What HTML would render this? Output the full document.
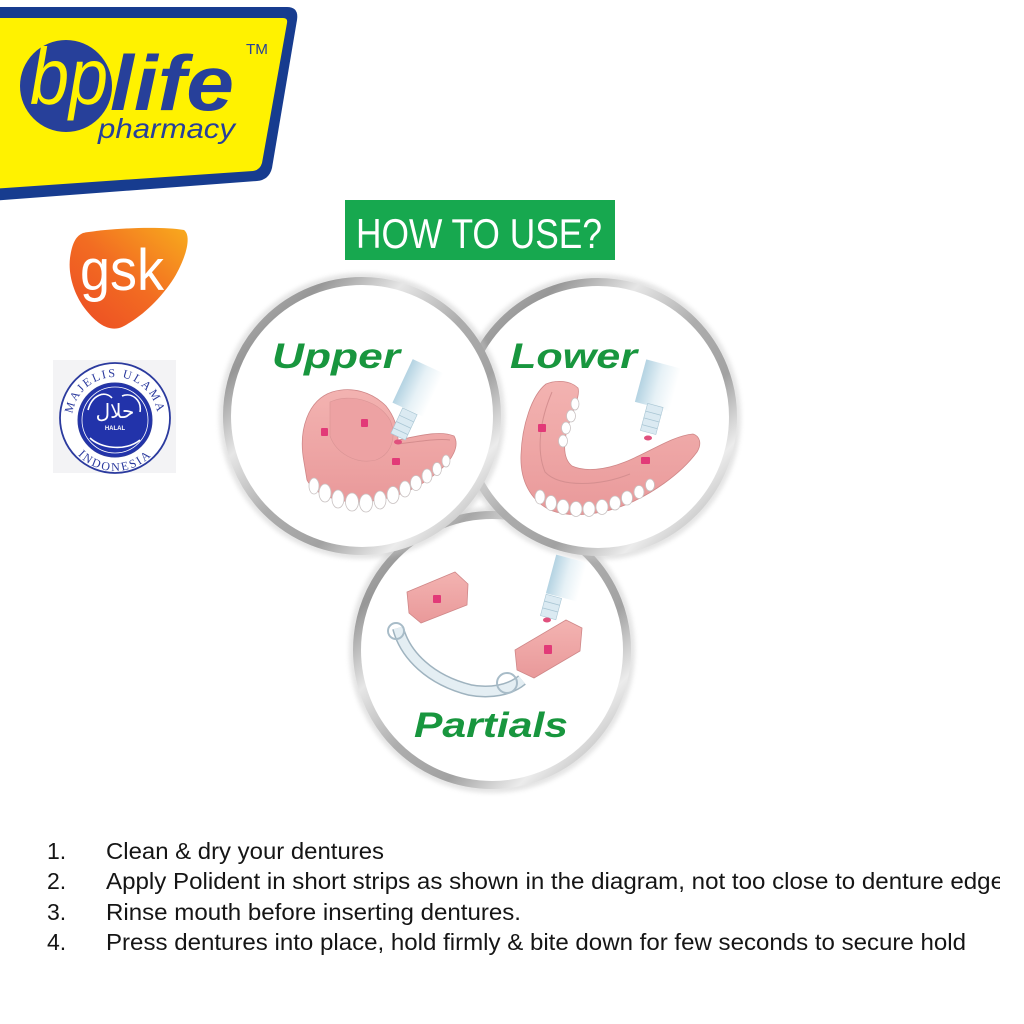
<!DOCTYPE html>
<html>
<head>
<meta charset="utf-8">
<style>
html,body{margin:0;padding:0;background:#fff;}
svg{display:block;}
</style>
</head>
<body>
<svg width="1024" height="1024" viewBox="0 0 1024 1024" xmlns="http://www.w3.org/2000/svg">
<defs>
  <linearGradient id="ring" x1="0" y1="0" x2="1" y2="1">
    <stop offset="0" stop-color="#bdbdbd"/>
    <stop offset="0.18" stop-color="#979797"/>
    <stop offset="0.33" stop-color="#e6e6e6"/>
    <stop offset="0.5" stop-color="#adadad"/>
    <stop offset="0.66" stop-color="#a2a2a2"/>
    <stop offset="0.8" stop-color="#ececec"/>
    <stop offset="1" stop-color="#969696"/>
  </linearGradient>
  <linearGradient id="gsk" x1="0" y1="1" x2="1" y2="0">
    <stop offset="0" stop-color="#ec4a24"/>
    <stop offset="0.5" stop-color="#f26c22"/>
    <stop offset="1" stop-color="#f8ab1d"/>
  </linearGradient>
  <linearGradient id="tube" x1="0" y1="0" x2="1" y2="0">
    <stop offset="0" stop-color="#b4d3e2"/>
    <stop offset="0.5" stop-color="#e6f1f6"/>
    <stop offset="1" stop-color="#ffffff"/>
  </linearGradient>
  <linearGradient id="gum" x1="0" y1="0" x2="0" y2="1">
    <stop offset="0" stop-color="#f3b3b1"/>
    <stop offset="1" stop-color="#e9999a"/>
  </linearGradient>
  <filter id="blur" x="-20%" y="-20%" width="140%" height="140%">
    <feGaussianBlur stdDeviation="2"/>
  </filter>
  <clipPath id="clipR"><rect x="0" y="0" width="1000" height="1024"/></clipPath>
  <path id="halTop" d="M 72,420 A 43 43 0 0 1 158,420"/>
  <path id="halBot" d="M 64,420 A 51 51 0 0 0 166,420"/>
</defs>

<rect x="0" y="0" width="1024" height="1024" fill="#ffffff"/>

<!-- bplife logo panel -->
<path d="M-10,7 L287,7 Q299,7 297,20 L272,168 Q269,180 257,181 L-10,201 Z" fill="#173c8f"/>
<path d="M-10,18 L283,18 Q288,18 287,23 L262,163 Q260,170 253,171 L-10,189 Z" fill="#fff200"/>
<circle cx="66" cy="86" r="46" fill="#27409a"/>
<text x="30" y="104" font-family="Liberation Sans, sans-serif" font-size="80" font-style="italic" fill="#fff200" textLength="78" lengthAdjust="spacingAndGlyphs">bp</text>
<text x="110" y="110" font-family="Liberation Sans, sans-serif" font-size="78" font-style="italic" font-weight="bold" fill="#27409a" textLength="124" lengthAdjust="spacingAndGlyphs">life</text>
<text x="98" y="138" font-family="Liberation Sans, sans-serif" font-size="28" font-style="italic" fill="#27409a" textLength="137" lengthAdjust="spacingAndGlyphs">pharmacy</text>
<text x="246" y="54" font-family="Liberation Sans, sans-serif" font-size="15" fill="#27409a" textLength="22" lengthAdjust="spacingAndGlyphs">TM</text>

<!-- GSK logo -->
<path d="M83,233 C110,228 160,226 184,230 C192,236 186,258 174,278 C160,300 140,318 122,327 C110,332 98,325 86,310 C74,295 68,275 70,258 C72,243 76,236 83,233 Z" fill="url(#gsk)"/>
<text x="80" y="290" font-family="Liberation Sans, sans-serif" font-size="58" fill="#ffffff" textLength="84" lengthAdjust="spacingAndGlyphs">gsk</text>

<!-- Halal logo -->
<rect x="53" y="360" width="123" height="113" fill="#f3f3f5"/>
<circle cx="115" cy="418" r="55" fill="#ffffff" stroke="#2b3a9e" stroke-width="1.8"/>
<circle cx="115" cy="420" r="37" fill="#2233aa" stroke="#2b3a9e" stroke-width="1"/>
<circle cx="115" cy="420" r="33" fill="none" stroke="#ffffff" stroke-width="0.8"/>
<text font-family="Liberation Serif, serif" font-size="12" fill="#2b3a9e"><textPath href="#halTop" startOffset="50%" text-anchor="middle" letter-spacing="2">MAJELIS ULAMA</textPath></text>
<text font-family="Liberation Serif, serif" font-size="12" fill="#2b3a9e"><textPath href="#halBot" startOffset="50%" text-anchor="middle" letter-spacing="2">INDONESIA</textPath></text>
<text x="115" y="418" font-family="DejaVu Sans, sans-serif" font-size="20" fill="#ffffff" text-anchor="middle">حلال</text>
<text x="115" y="430" font-family="Liberation Sans, sans-serif" font-size="6" font-weight="bold" fill="#ffffff" text-anchor="middle">HALAL</text>
<path d="M88,410 C92,395 105,390 112,398 M122,396 C132,392 142,400 140,412 M90,438 C100,448 125,452 140,440" fill="none" stroke="#ffffff" stroke-width="1.6"/>

<!-- HOW TO USE -->
<rect x="345" y="200" width="270" height="60" fill="#17a84f"/>
<text x="356" y="248" font-family="Liberation Sans, sans-serif" font-size="42" fill="#ffffff" textLength="246" lengthAdjust="spacingAndGlyphs">HOW TO USE?</text>

<!-- Partials circle (bottom layer) -->
<circle cx="492" cy="650" r="139" fill="none" stroke="#c4c4c4" stroke-width="8" opacity="0.45" filter="url(#blur)"/>
<circle cx="492" cy="650" r="135" fill="#ffffff" stroke="url(#ring)" stroke-width="8"/>

<!-- Lower circle -->
<circle cx="598" cy="417" r="139" fill="none" stroke="#c4c4c4" stroke-width="8" opacity="0.45" filter="url(#blur)"/>
<circle cx="598" cy="417" r="135" fill="#ffffff" stroke="url(#ring)" stroke-width="8"/>

<!-- Upper circle -->
<circle cx="362" cy="416" r="139" fill="none" stroke="#c4c4c4" stroke-width="8" opacity="0.45" filter="url(#blur)"/>
<circle cx="362" cy="416" r="135" fill="#ffffff" stroke="url(#ring)" stroke-width="8"/>

<!-- Upper content -->
<text x="272" y="368" font-family="Liberation Sans, sans-serif" font-size="35" font-style="italic" font-weight="bold" fill="#18963e" textLength="128" lengthAdjust="spacingAndGlyphs">Upper</text>
<path d="M304,462 C298,430 308,400 332,392 C352,386 372,392 386,406 C394,416 398,428 398,440 C418,436 440,430 454,436 C460,446 452,460 440,470 C418,490 392,500 362,502 C336,503 314,494 307,480 Z" fill="url(#gum)" stroke="#cf8788" stroke-width="0.8"/>
<path d="M330,402 C350,393 378,400 390,420 C397,436 392,454 376,460 C356,465 336,453 330,436 Z" fill="#eda2a3" stroke="#d99495" stroke-width="0.6"/>
<path d="M398,444 C415,442 438,438 450,440" fill="none" stroke="#d48c8d" stroke-width="1"/>
<g fill="#ffffff" stroke="#c9c2c2" stroke-width="0.8">
  <ellipse cx="314" cy="486" rx="5" ry="8"/>
  <ellipse cx="325" cy="493" rx="6" ry="9"/>
  <ellipse cx="338" cy="499" rx="6" ry="9"/>
  <ellipse cx="352" cy="502" rx="6.5" ry="9"/>
  <ellipse cx="366" cy="503" rx="6.5" ry="9"/>
  <ellipse cx="380" cy="500" rx="6" ry="9"/>
  <ellipse cx="393" cy="495" rx="6" ry="8.5"/>
  <ellipse cx="405" cy="489" rx="5.5" ry="8"/>
  <ellipse cx="416" cy="483" rx="5.5" ry="7.5"/>
  <ellipse cx="427" cy="476" rx="5" ry="7"/>
  <ellipse cx="437" cy="469" rx="4.5" ry="6.5"/>
  <ellipse cx="446" cy="461" rx="4" ry="6"/>
</g>
<g fill="#e23a78">
  <rect x="321" y="428" width="7" height="8" rx="1"/>
  <rect x="361" y="419" width="7" height="8" rx="1"/>
  <rect x="392" y="458" width="8" height="7" rx="1"/>
</g>
<g transform="rotate(25 418 388)">
  <rect x="401" y="364" width="34" height="48" fill="url(#tube)"/>
</g>
<g transform="rotate(25 404 424)">
  <rect x="396" y="410" width="16" height="28" fill="#dbeaf2" stroke="#a9c6d4" stroke-width="0.6"/>
  <line x1="396" y1="418" x2="412" y2="418" stroke="#a9c6d4" stroke-width="0.8"/>
  <line x1="396" y1="425" x2="412" y2="425" stroke="#a9c6d4" stroke-width="0.8"/>
  <line x1="396" y1="432" x2="412" y2="432" stroke="#a9c6d4" stroke-width="0.8"/>
</g>
<ellipse cx="398" cy="442" rx="4" ry="2.5" fill="#e0507d"/>

<!-- Lower content -->
<text x="510" y="368" font-family="Liberation Sans, sans-serif" font-size="35" font-style="italic" font-weight="bold" fill="#18963e" textLength="127" lengthAdjust="spacingAndGlyphs">Lower</text>
<path d="M546,384 C532,395 522,425 521,455 C520,480 530,500 550,510 C570,518 600,515 625,505 C650,495 680,475 697,452 C702,444 700,436 693,434 C672,436 650,452 625,462 C605,470 585,472 572,466 C562,458 563,440 570,420 C575,405 580,395 578,388 C570,380 556,380 546,384 Z" fill="url(#gum)" stroke="#cf8788" stroke-width="0.8"/>
<path d="M552,392 C540,420 536,450 545,472 C560,488 600,486 630,474" fill="none" stroke="#d58f90" stroke-width="1"/>
<g fill="#ffffff" stroke="#c9c2c2" stroke-width="0.8">
  <ellipse cx="575" cy="404" rx="4" ry="6"/>
  <ellipse cx="571" cy="416" rx="4.5" ry="6"/>
  <ellipse cx="566" cy="428" rx="4.5" ry="6"/>
  <ellipse cx="563" cy="441" rx="4.5" ry="6"/>
  <ellipse cx="540" cy="497" rx="5" ry="7"/>
  <ellipse cx="551" cy="503" rx="5.5" ry="7.5"/>
  <ellipse cx="563" cy="507" rx="6" ry="7.5"/>
  <ellipse cx="576" cy="509" rx="6" ry="7.5"/>
  <ellipse cx="589" cy="509" rx="6" ry="7.5"/>
  <ellipse cx="602" cy="507" rx="6" ry="7.5"/>
  <ellipse cx="615" cy="503" rx="5.5" ry="7"/>
  <ellipse cx="627" cy="498" rx="5.5" ry="7"/>
  <ellipse cx="639" cy="492" rx="5" ry="6.5"/>
  <ellipse cx="650" cy="485" rx="4.5" ry="6"/>
</g>
<g fill="#e23a78">
  <rect x="538" y="424" width="8" height="8" rx="1"/>
  <rect x="641" y="457" width="9" height="7" rx="1"/>
</g>
<g transform="rotate(15 657 385)">
  <rect x="640" y="363" width="36" height="44" fill="url(#tube)"/>
</g>
<g transform="rotate(15 652 418)">
  <rect x="644" y="405" width="16" height="28" fill="#dbeaf2" stroke="#a9c6d4" stroke-width="0.6"/>
  <line x1="644" y1="413" x2="660" y2="413" stroke="#a9c6d4" stroke-width="0.8"/>
  <line x1="644" y1="420" x2="660" y2="420" stroke="#a9c6d4" stroke-width="0.8"/>
  <line x1="644" y1="427" x2="660" y2="427" stroke="#a9c6d4" stroke-width="0.8"/>
</g>
<ellipse cx="648" cy="438" rx="4" ry="2.5" fill="#e0507d"/>

<!-- Partials content -->
<path d="M398,628 C405,655 430,680 470,690 C490,694 510,690 522,680" fill="none" stroke="#9fb3bf" stroke-width="12"/>
<path d="M398,628 C405,655 430,680 470,690 C490,694 510,690 522,680" fill="none" stroke="#e4eef3" stroke-width="9"/>
<circle cx="396" cy="631" r="8" fill="none" stroke="#a8bcc8" stroke-width="2"/>
<circle cx="507" cy="683" r="10" fill="none" stroke="#a8bcc8" stroke-width="2"/>
<path d="M407,592 L455,572 L468,584 L467,605 L421,623 L409,613 Z" fill="url(#gum)" stroke="#cf8788" stroke-width="0.8"/>
<rect x="433" y="595" width="8" height="8" rx="1" fill="#e23a78"/>
<path d="M515,650 L566,620 L582,628 L580,651 L534,678 L517,670 Z" fill="url(#gum)" stroke="#cf8788" stroke-width="0.8"/>
<rect x="544" y="645" width="8" height="9" rx="1" fill="#e23a78"/>
<g transform="rotate(15 566 580)">
  <rect x="550" y="558" width="32" height="40" fill="url(#tube)"/>
</g>
<g transform="rotate(15 551 607)">
  <rect x="543" y="596" width="16" height="22" fill="#dbeaf2" stroke="#a9c6d4" stroke-width="0.6"/>
  <line x1="543" y1="603" x2="559" y2="603" stroke="#a9c6d4" stroke-width="0.8"/>
  <line x1="543" y1="610" x2="559" y2="610" stroke="#a9c6d4" stroke-width="0.8"/>
</g>
<ellipse cx="547" cy="620" rx="4" ry="2.5" fill="#e0507d"/>
<text x="414" y="737" font-family="Liberation Sans, sans-serif" font-size="35" font-style="italic" font-weight="bold" fill="#18963e" textLength="154" lengthAdjust="spacingAndGlyphs">Partials</text>

<!-- Instructions -->
<g font-family="Liberation Sans, sans-serif" font-size="23" fill="#151515">
  <text x="47" y="859">1.</text>
  <text x="47" y="889">2.</text>
  <text x="47" y="920">3.</text>
  <text x="47" y="950">4.</text>
  <text x="106" y="859" textLength="278" lengthAdjust="spacingAndGlyphs">Clean &amp; dry your dentures</text>
  <g clip-path="url(#clipR)">
    <text x="106" y="889" textLength="898" lengthAdjust="spacingAndGlyphs">Apply Polident in short strips as shown in the diagram, not too close to denture edge</text>
  </g>
  <text x="106" y="920" textLength="415" lengthAdjust="spacingAndGlyphs">Rinse mouth before inserting dentures.</text>
  <text x="106" y="950" textLength="860" lengthAdjust="spacingAndGlyphs">Press dentures into place, hold firmly &amp; bite down for few seconds to secure hold</text>
</g>
</svg>
</body>
</html>
